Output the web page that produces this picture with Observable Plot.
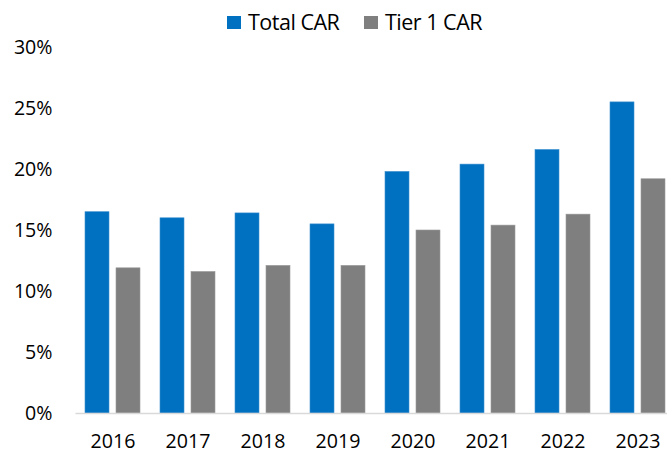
<!DOCTYPE html>
<html>
<head>
<meta charset="utf-8">
<script src="https://cdn.jsdelivr.net/npm/d3@7"></script>
<script src="https://cdn.jsdelivr.net/npm/@observablehq/plot@0.6"></script>
<style>
  html, body { margin: 0; padding: 0; background: #fff; overflow: hidden; }
  body { width: 667px; height: 453px; font-family: "Open Sans", sans-serif; }
  #legend { position: relative; height: 30px; }
  .item { position: absolute; top: 6px; display: flex; align-items: center; font-size: 21.5px; letter-spacing: -0.5px; color: #000; line-height: 32px; white-space: nowrap; }
  .sw { display: inline-block; width: 14px; height: 13px; margin-right: 7px; }
  #chart svg { display: block; }
</style>
</head>
<body>
<div id="legend"></div>
<div id="chart"></div>
<script>
const years = ["2016", "2017", "2018", "2019", "2020", "2021", "2022", "2023"];
const totalCar = [16.5, 16.0, 16.4, 15.5, 19.8, 20.4, 21.6, 25.5];
const tier1Car = [11.9, 11.6, 12.1, 12.1, 15.0, 15.4, 16.3, 19.2];
const seriesNames = ["Total CAR", "Tier 1 CAR"];
const seriesColors = ["#0070C0", "#7F7F7F"];
const yTicks = [0, 5, 10, 15, 20, 25, 30];

const totalData = years.map((y, i) => ({year: y, value: totalCar[i]}));
const tierData = years.map((y, i) => ({year: y, value: tier1Car[i]}));

// legend
const legend = document.getElementById("legend");
const lefts = [227, 364];
seriesNames.forEach((name, i) => {
  const it = document.createElement("div");
  it.className = "item";
  it.style.left = lefts[i] + "px";
  const sw = document.createElement("span");
  sw.className = "sw";
  sw.style.background = seriesColors[i];
  it.appendChild(sw);
  it.appendChild(document.createTextNode(name));
  legend.appendChild(it);
});

const H = 423;
const pIn = 0.2613;
const barInset = 31;

const chart = Plot.plot({
  width: 667,
  height: H,
  marginTop: 17,
  marginBottom: 40,
  marginLeft: 75.5,
  marginRight: 0,
  style: {fontFamily: "Open Sans, sans-serif", fontSize: "19.6px", color: "#000", background: "#fff"},
  x: {domain: years, range: [75.5, 675.5], paddingInner: pIn, paddingOuter: pIn / 2, label: null},
  y: {domain: [0, 30], range: [H - 40, 17], label: null},
  marks: [
    Plot.barY(totalData, {x: "year", y: "value", fill: seriesColors[0], insetRight: barInset, stroke: "#3d8fd0", strokeWidth: 0.6}),
    Plot.barY(tierData, {x: "year", y: "value", fill: seriesColors[1], insetLeft: barInset, stroke: "#9a9a9a", strokeWidth: 0.6}),
    Plot.ruleY([0], {stroke: "#d9d9d9", strokeWidth: 1.6}),
    Plot.axisY({ticks: yTicks, tickSize: 0, tickPadding: 23.5, tickFormat: d => d + "%", fontSize: "19.6px", fill: "#000"}),
    Plot.axisX({tickSize: 0, tickPadding: 20.5, fontSize: "19.6px", fill: "#000"})
  ]
});
document.getElementById("chart").appendChild(chart);
</script>
</body>
</html>
